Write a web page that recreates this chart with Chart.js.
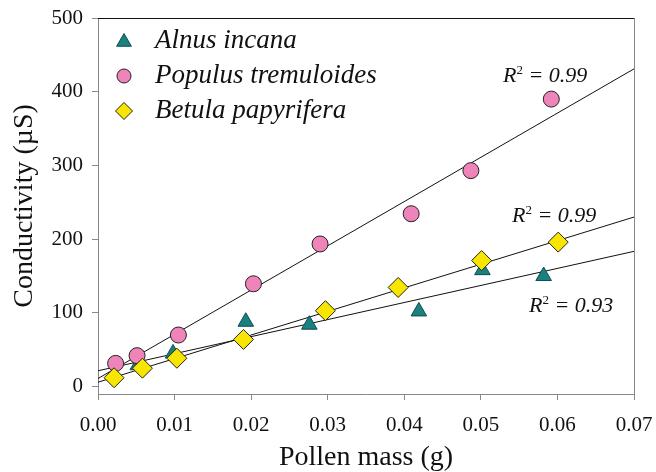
<!DOCTYPE html>
<html>
<head>
<meta charset="utf-8">
<script src="https://cdn.jsdelivr.net/npm/chart.js@4/dist/chart.umd.min.js"></script>
<style>
  html, body { margin: 0; padding: 0; background: #fff; }
  #wrap { width: 656px; height: 472px; }
</style>
</head>
<body>
<div id="wrap"><canvas id="myChart" width="656" height="472"></canvas></div>
<script>
var FONT = "'Liberation Serif', 'Times New Roman', serif";

var speciesNames = ["Alnus incana", "Populus tremuloides", "Betula papyrifera"];
var speciesColors = ["#1B8080", "#EE84B9", "#F8E500"];

var alnusX = [0.0052, 0.0098, 0.0193, 0.0276, 0.0419, 0.0502, 0.0582];
var alnusY = [29, 45, 88, 84, 102, 158, 150];
var populusX = [0.0023, 0.0051, 0.0105, 0.0203, 0.0290, 0.0409, 0.0487, 0.0592];
var populusY = [31.5, 42, 70, 139.5, 193.5, 234.5, 293, 390];
var betulaX = [0.0021, 0.0058, 0.0103, 0.0190, 0.0297, 0.0392, 0.0501, 0.0601];
var betulaY = [12, 25, 38.5, 64, 103, 134.5, 171, 196];

// fitted lines, read at x = 0 and x = 0.07
var fitX = [0, 0.07];
var alnusFit = [21.5, 183.5];
var populusFit = [11, 431];
var betulaFit = [6, 230];

var r2Labels = ["0.99", "0.99", "0.93"];
var xTicks = [0, 0.01, 0.02, 0.03, 0.04, 0.05, 0.06, 0.07];
var yTicks = [0, 100, 200, 300, 400, 500];

function pts(xs, ys) {
    return xs.map(function (x, i) { return { x: x, y: ys[i] }; });
}

function drawMarker(ctx, style, x, y, r, fill) {
    ctx.save();
    ctx.beginPath();
    if (style === "triangle") {
        ctx.moveTo(x, y - r);
        ctx.lineTo(x + r * 0.866, y + r * 0.5);
        ctx.lineTo(x - r * 0.866, y + r * 0.5);
        ctx.closePath();
    } else if (style === "rectRot") {
        ctx.moveTo(x, y - r);
        ctx.lineTo(x + r, y);
        ctx.lineTo(x, y + r);
        ctx.lineTo(x - r, y);
        ctx.closePath();
    } else {
        ctx.arc(x, y, r, 0, Math.PI * 2);
    }
    ctx.fillStyle = fill;
    ctx.fill();
    ctx.lineWidth = 1;
    ctx.strokeStyle = style === "triangle" ? "#0d4d4d" : "#222";
    ctx.stroke();
    ctx.restore();
}

var extras = {
    id: "extras",
    afterDraw: function (chart) {
        var ctx = chart.ctx;
        var a = chart.chartArea;
        ctx.save();
        // frame top and right
        ctx.lineWidth = 1;
        ctx.strokeStyle = "#111";
        ctx.beginPath();
        ctx.moveTo(a.left, a.top + 0.5);
        ctx.lineTo(a.right, a.top + 0.5);
        ctx.stroke();
        ctx.strokeStyle = "#888";
        ctx.beginPath();
        ctx.moveTo(a.right + 0.5, a.top);
        ctx.lineTo(a.right + 0.5, a.bottom);
        ctx.stroke();

        // legend
        var styles = ["triangle", "circle", "rectRot"];
        var sizes = [8.5, 7, 8.5];
        var rows = [41, 76, 111];
        ctx.font = "italic 27px " + FONT;
        ctx.textBaseline = "middle";
        for (var i = 0; i < 3; i++) {
            drawMarker(ctx, styles[i], 124, rows[i] + (i === 0 ? 1 : 0), sizes[i], speciesColors[i]);
            ctx.fillStyle = "#111";
            ctx.fillText(speciesNames[i], 155, rows[i]);
        }

        // R squared labels
        var r2Pos = [[503, 82], [512, 222], [529, 312]];
        ctx.textBaseline = "alphabetic";
        r2Pos.forEach(function (p, k) {
            var x = p[0];
            ctx.font = "italic 22px " + FONT;
            ctx.fillText("R", x, p[1]);
            x += ctx.measureText("R").width;
            ctx.font = "13px " + FONT;
            ctx.fillText("2", x, p[1] - 8);
            x += ctx.measureText("2").width;
            ctx.font = "italic 22px " + FONT;
            ctx.fillText(" = " + r2Labels[k], x, p[1]);
        });
        ctx.restore();
    }
};

var ctx = document.getElementById("myChart").getContext("2d");
var chart = new Chart(ctx, {
    type: "scatter",
    data: {
        datasets: [
            {
                label: speciesNames[2],
                data: pts(betulaX, betulaY),
                pointStyle: "rectRot",
                pointRadius: 10,
                backgroundColor: speciesColors[2],
                borderColor: "#222",
                borderWidth: 1,
                order: 1
            },
            {
                label: speciesNames[1],
                data: pts(populusX, populusY),
                pointStyle: "circle",
                pointRadius: 8,
                backgroundColor: speciesColors[1],
                borderColor: "#222",
                borderWidth: 1,
                order: 2
            },
            {
                label: speciesNames[0],
                data: pts(alnusX, alnusY),
                pointStyle: "triangle",
                pointRadius: 9,
                backgroundColor: speciesColors[0],
                borderColor: "#0d4d4d",
                borderWidth: 1,
                order: 3
            },
            {
                type: "line",
                data: pts(fitX, populusFit),
                borderColor: "#111",
                borderWidth: 1,
                pointRadius: 0,
                order: 4
            },
            {
                type: "line",
                data: pts(fitX, betulaFit),
                borderColor: "#111",
                borderWidth: 1,
                pointRadius: 0,
                order: 4
            },
            {
                type: "line",
                data: pts(fitX, alnusFit),
                borderColor: "#111",
                borderWidth: 1,
                pointRadius: 0,
                order: 4
            }
        ]
    },
    options: {
        responsive: false,
        animation: false,
        layout: { padding: { top: 18, right: 22, left: 0, bottom: 0 } },
        plugins: {
            legend: { display: false },
            tooltip: { enabled: false }
        },
        scales: {
            x: {
                type: "linear",
                min: 0,
                max: 0.07,
                afterFit: function (s) {
                    s.height = 78;
                    s.paddingLeft = 0;
                    s.paddingRight = 0;
                },
                afterBuildTicks: function (s) {
                    s.ticks = xTicks.map(function (v) { return { value: v }; });
                },
                border: { display: true, color: "#888", width: 1 },
                grid: { display: true, drawOnChartArea: false, drawTicks: true, tickLength: 6, color: "#888" },
                ticks: {
                    padding: 13,
                    color: "#111",
                    font: { family: FONT, size: 21 },
                    callback: function (v) { return Number(v).toFixed(2); }
                },
                title: {
                    display: true,
                    text: "Pollen mass (g)",
                    color: "#111",
                    font: { family: FONT, size: 28, lineHeight: 1 },
                    padding: { top: 0, bottom: 0 }
                }
            },
            y: {
                type: "linear",
                min: -10,
                max: 500,
                afterFit: function (s) {
                    s.width = 98;
                    s.paddingTop = 0;
                    s.paddingBottom = 0;
                },
                afterBuildTicks: function (s) {
                    s.ticks = yTicks.map(function (v) { return { value: v }; });
                },
                border: { display: true, color: "#888", width: 1 },
                grid: { display: true, drawOnChartArea: false, drawTicks: true, tickLength: 6, color: "#888" },
                ticks: {
                    padding: 9,
                    color: "#111",
                    font: { family: FONT, size: 21 }
                },
                title: {
                    display: true,
                    text: "Conductivity (\u00B5S)",
                    color: "#111",
                    font: { family: FONT, size: 28, lineHeight: 1 },
                    padding: { top: 11, bottom: 0 }
                }
            }
        }
    },
    plugins: [extras]
});
</script>
</body>
</html>
